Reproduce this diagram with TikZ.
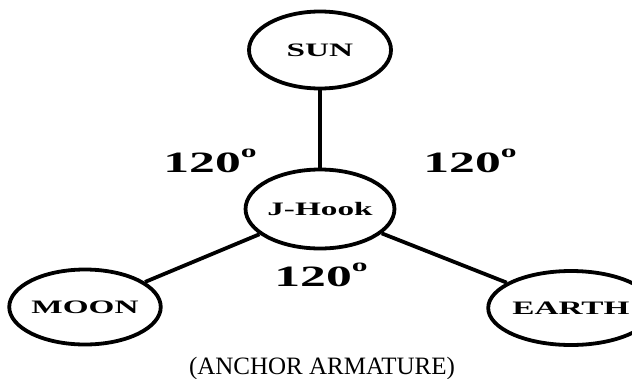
\documentclass[tikz,border=0pt]{standalone}
\usepackage{fontspec}
\setmainfont{Liberation Serif}
\usetikzlibrary{shapes.geometric}
\newcommand{\widetext}[1]{\scalebox{1.75}[1]{#1}}
\newcommand{\degsup}{\raisebox{15pt}{\fontsize{18}{18}\selectfont o}}
\begin{document}
\begin{tikzpicture}[x=1pt,y=-1pt,
  orb/.style={ellipse, draw=black, line width=3.8pt, inner sep=0pt,
    minimum width=142pt, minimum height=77pt,
    font=\fontsize{19}{20}\selectfont\bfseries},
  conn/.style={line width=3.8pt},
  ang/.style={font=\fontsize{29.5}{32}\selectfont\bfseries, inner sep=0pt, anchor=base},
  captext/.style={font=\fontsize{25}{28}\selectfont, inner sep=0pt, anchor=base}]
\useasboundingbox (0,0) rectangle (632,378);
\clip (0,0) rectangle (632,378);
\node[orb] (sun) at (320,50) {\widetext{SUN}};
\node[orb, minimum height=79pt] (jhook) at (320,209) {\widetext{J-Hook}};
\node[orb, minimum height=75pt] (moon) at (85,307) {\widetext{MOON}};
\node[orb, minimum height=74pt] (earth) at (571,308) {\widetext{EARTH}};
\draw[conn] (sun) -- (jhook);
\draw[conn] (jhook) -- (moon);
\draw[conn] (jhook) -- (earth);
\node[ang] (a1) at (210,172) {\widetext{120\degsup}};
\node[ang] (a2) at (470,172) {\widetext{120\degsup}};
\node[ang] (a3) at (321,286) {\widetext{120\degsup}};
\node[captext] (caption) at (322,374) {(ANCHOR ARMATURE)};
\end{tikzpicture}
\end{document}
